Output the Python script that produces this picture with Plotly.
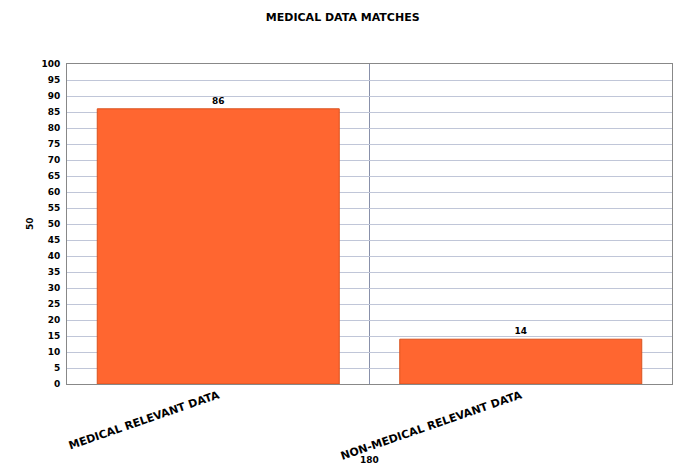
import plotly.graph_objects as go

categories = ["MEDICAL RELEVANT DATA", "NON-MEDICAL RELEVANT DATA"]
values = [86, 14]
title_text = "MEDICAL DATA MATCHES"
y_title = "50"
x_title = "180"
y_ticks = list(range(0, 101, 5))

font_family = "DejaVu Sans"
fig = go.Figure()
fig.add_trace(go.Bar(
    x=list(range(len(categories))),
    y=values,
    width=0.8,
    marker=dict(color="#FF6630", line=dict(color="#D9531F", width=1)),
    text=[str(v) for v in values],
    textposition="outside",
    textfont=dict(family=font_family, size=9, color="black", weight="bold"),
    cliponaxis=False,
))

fig.update_layout(
    width=676, height=466,
    margin=dict(l=67, r=4, t=64, b=82),
    paper_bgcolor="white", plot_bgcolor="white",
    showlegend=False,
    title=dict(text=title_text, x=0.507, xanchor="center", y=1 - 17 / 466, yanchor="middle",
               font=dict(family=font_family, size=11, color="black", weight="bold")),
    bargap=0.2,
)
fig.update_xaxes(
    range=[-0.5, 1.5],
    tickvals=list(range(len(categories))),
    ticktext=categories,
    tickangle=-19,
    tickfont=dict(family=font_family, size=11, color="black", weight="bold"),
    showgrid=False, zeroline=False,
    showline=True, linecolor="#888888", linewidth=1, mirror=True,
    ticks="",
    minor=dict(tickvals=[0.5], showgrid=True, gridcolor="#8890AA", gridwidth=1),
)
fig.update_yaxes(
    range=[0, 100],
    tickvals=y_ticks,
    tickfont=dict(family=font_family, size=9, color="black", weight="bold"),
    showgrid=True, gridcolor="#C0C6D8", gridwidth=1,
    zeroline=False,
    showline=True, linecolor="#888888", linewidth=1, mirror=True,
    ticks="", ticklabelstandoff=4,
)
fig.add_annotation(text=y_title, xref="paper", yref="paper", x=-37 / 605, y=0.5,
                   textangle=-90, showarrow=False, xanchor="center", yanchor="middle",
                   font=dict(family=font_family, size=9, color="black", weight="bold"))
fig.add_annotation(text=x_title, xref="paper", yref="paper", x=0.5, y=-(460 - 384) / 320,
                   showarrow=False, xanchor="center", yanchor="middle",
                   font=dict(family=font_family, size=9, color="black", weight="bold"))
fig.write_html("out.html")
